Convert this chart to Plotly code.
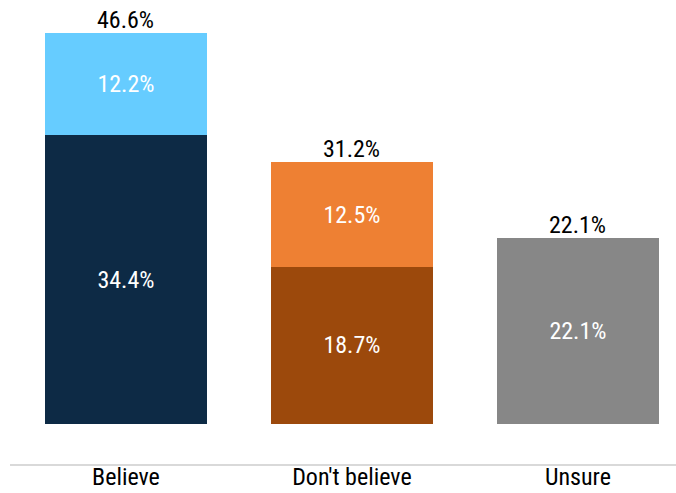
import plotly.graph_objects as go

categories = ["Believe", "Don't believe", "Unsure"]
lower_values = [34.4, 18.7, 22.1]
upper_values = [12.2, 12.5, None]
lower_colors = ["#0d2a45", "#9c490c", "#878787"]
upper_colors = ["#66ccff", "#ee8033", "#878787"]
totals = [round(a + (b or 0), 1) for a, b in zip(lower_values, upper_values)]

font = "Roboto Condensed, Liberation Sans, sans-serif"
fs = 24
fw = 400

fig = go.Figure()
fig.add_trace(go.Bar(
    x=categories, y=lower_values, marker=dict(color=lower_colors, line=dict(width=0)),
    text=[f"{v:.1f}%" for v in lower_values], textposition="inside",
    insidetextanchor="middle", textfont=dict(color="white", size=fs, family=font, weight=fw),
    width=0.717, hoverinfo="skip",
))
fig.add_trace(go.Bar(
    x=categories, y=upper_values, marker=dict(color=upper_colors, line=dict(width=0)),
    text=[f"{v:.1f}%" if v is not None else "" for v in upper_values], textposition="inside",
    insidetextanchor="middle", textfont=dict(color="white", size=fs, family=font, weight=fw),
    width=0.717, hoverinfo="skip",
))
for c, t in zip(categories, totals):
    fig.add_annotation(x=c, y=t, text=f"{t:.1f}%", showarrow=False,
                       yanchor="bottom", yshift=-3,
                       font=dict(size=fs, color="black", family=font, weight=fw))

fig.update_layout(
    barmode="stack", showlegend=False, width=676, height=493,
    margin=dict(l=10, r=0, t=0, b=29),
    paper_bgcolor="white", plot_bgcolor="white",
    uniformtext=dict(minsize=fs, mode="show"),
    font=dict(family=font, size=fs, color="black", weight=fw),
)
fig.update_xaxes(range=[-0.513, 2.434], showline=True, linecolor="#d9d9d9", linewidth=2,
                 ticks="", tickfont=dict(size=fs, color="black", family=font, weight=fw),
                 showgrid=False, automargin=False, ticklabelstandoff=-10)
fig.update_yaxes(range=[-4.77, 50.5], visible=False, showgrid=False, zeroline=False, automargin=False)

fig.write_html("out.html", config={"displayModeBar": False},
               post_script="document.body.style.margin='0';")
